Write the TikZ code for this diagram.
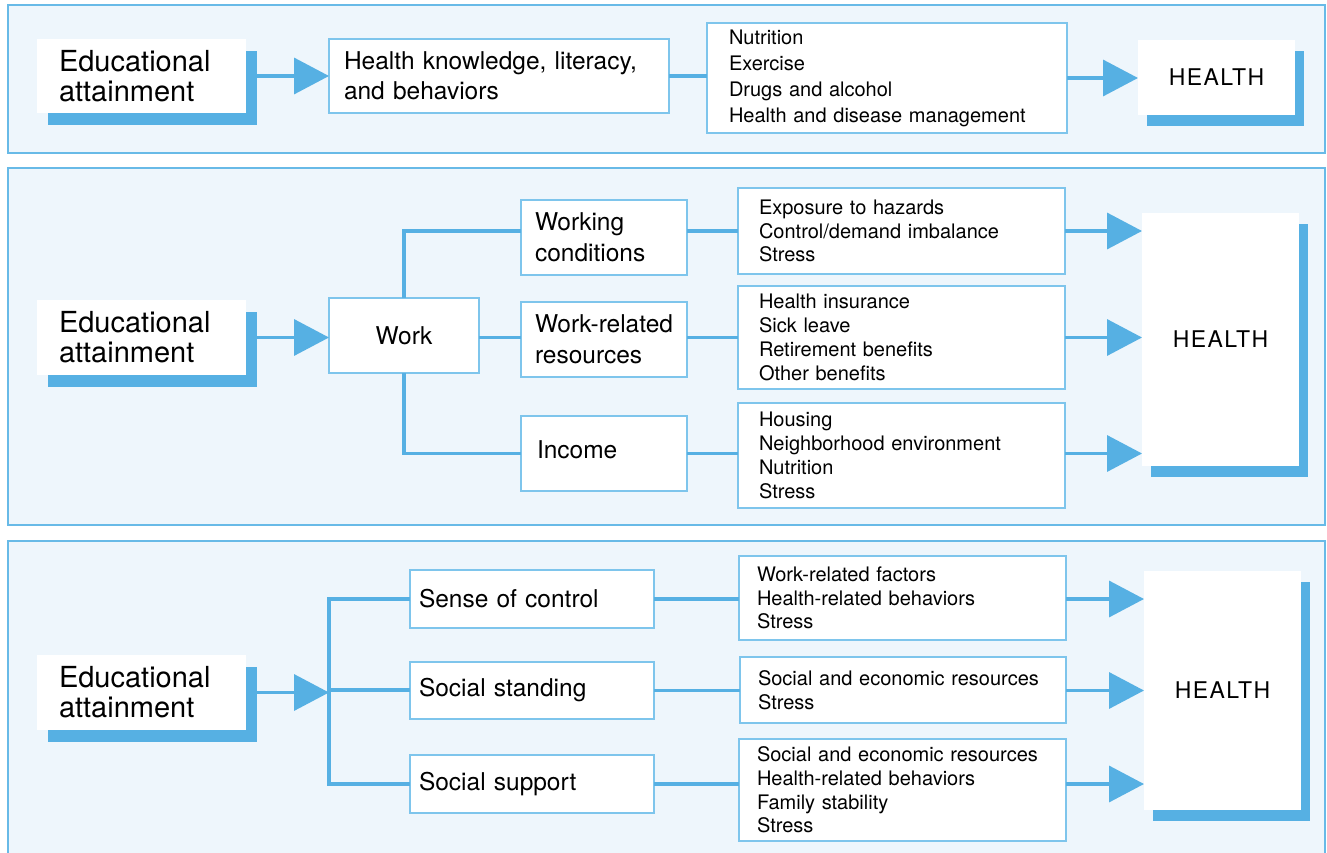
\documentclass[tikz,border=0pt]{standalone}
\usepackage{fontspec}
\setmainfont{TeX Gyre Heros}
\newfontfamily\hfont[LetterSpace=6]{TeX Gyre Heros}
\usetikzlibrary{arrows.meta,shadows}
\definecolor{sblue}{HTML}{56B0E3}
\definecolor{pfill}{HTML}{EEF6FC}
\definecolor{pline}{HTML}{68BAE7}
\definecolor{bline}{HTML}{7EC5EC}
\hyphenpenalty=10000 \exhyphenpenalty=10000
\newcommand\fbig{\fontsize{29}{30}\selectfont}
\newcommand\fmed{\fontsize{24.5}{30.5}\selectfont}
\newcommand\fsmalla{\fontsize{20}{26}\selectfont}
\newcommand\fsmallb{\fontsize{20}{23.8}\selectfont}
\begin{document}
\begin{tikzpicture}[x=1pt,y=-1pt,
  panel/.style={draw=pline,fill=pfill,line width=2pt},
  bx/.style={draw=bline,line width=1.3pt,fill=white,anchor=north west,align=left,inner ysep=0pt,outer sep=0pt},
  edu/.style={fill=white,anchor=north west,align=left,inner ysep=0pt,outer sep=0pt,minimum width=209pt,inner xsep=22pt,text width=165pt,font=\fbig,general shadow={fill=sblue,shadow xshift=11pt,shadow yshift=-12pt}},
  hbox/.style={fill=white,anchor=north west,outer sep=0pt,inner sep=0pt,minimum width=157pt,font=\hfont\fontsize{23}{26}\selectfont,general shadow={fill=sblue,shadow xshift=9pt,shadow yshift=-11pt}},
  conn/.style={draw=sblue,line width=3.5pt},
  arr/.style={conn,-{Triangle[length=35pt,width=36pt]}},
]
\path[use as bounding box] (0,0) rectangle (1327,853);
\clip (0,0) rectangle (1327,853);

% panels
\path[panel] (8,5) rectangle (1325,153);
\path[panel] (8,168) rectangle (1325,525);
\path[panel] (8,541) rectangle (1325,880);

% ---------- panel 1 ----------
\node[edu,minimum height=74pt] (e1) at (37,39) {Educational\\attainment};
\node[bx,minimum width=340pt,minimum height=74pt,inner xsep=15pt,text width=310pt,font=\fmed] (hk) at (329,39) {Health knowledge, literacy,\\and behaviors};
\node[bx,minimum width=360pt,minimum height=110pt,inner xsep=22pt,text width=316pt,font=\fsmalla] (n1) at (707,23) {Nutrition\\Exercise\\Drugs and alcohol\\Health and disease management};
\node[hbox,minimum height=75pt] (h1) at (1138,40) {HEALTH};

\draw[arr] (e1.east) -- (e1.east -| hk.west);
\draw[conn] (hk.east) -- (hk.east -| n1.west);
\draw[arr] (n1.east) -- (n1.east -| h1.west);

% ---------- panel 2 ----------
\node[edu,minimum height=75pt] (e2) at (37,300) {Educational\\attainment};
\node[bx,minimum width=150pt,minimum height=75pt,align=center,font=\fmed] (work) at (329,298) {Work};
\node[bx,minimum width=166pt,minimum height=75pt,inner xsep=14pt,text width=138pt,font=\fmed] (wc) at (521,200) {Working\\conditions};
\node[bx,minimum width=166pt,minimum height=75pt,inner xsep=14pt,text width=138pt,font=\fmed] (wr) at (521,302) {Work-related\\resources};
\node[bx,minimum width=166pt,minimum height=75pt,inner xsep=16pt,text width=134pt,text depth=8pt,font=\fmed] (inc) at (521,416) {Income};
\node[bx,minimum width=327pt,minimum height=86pt,inner xsep=21pt,text width=285pt,font=\fsmallb] (x1) at (738,188) {Exposure to hazards\\Control/demand imbalance\\Stress};
\node[bx,minimum width=327pt,minimum height=103pt,inner xsep=21pt,text width=285pt,font=\fsmallb] (x2) at (738,286) {Health insurance\\Sick leave\\Retirement benefits\\Other benefits};
\node[bx,minimum width=327pt,minimum height=105pt,inner xsep=21pt,text width=285pt,font=\fsmallb] (x3) at (738,403) {Housing\\Neighborhood environment\\Nutrition\\Stress};
\node[hbox,minimum height=253pt] (h2) at (1142,213) {HEALTH};

\draw[arr] (e2.east) -- (e2.east -| work.west);
\draw[conn] (work.north) |- (x1.west -| wc.west);
\draw[conn] (work.east |- x2.west) -- (x2.west -| wc.west);
\draw[conn] (work.south) |- (inc.west);
\draw[conn] (x1.west -| wc.east) -- (x1.west);
\draw[conn] (x2.west -| wr.east) -- (x2.west);
\draw[conn] (inc.east) -- (inc.east -| x3.west);
\draw[arr] (x1.east) -- (x1.east -| h2.west);
\draw[arr] (x2.east) -- (x2.east -| h2.west);
\draw[arr] (inc.east -| x3.east) -- (inc.east -| h2.west);

% ---------- panel 3 ----------
\node[edu,minimum height=75pt] (e3) at (37,655) {Educational\\attainment};
\coordinate (t3) at (329,690);
\node[bx,minimum width=244pt,minimum height=58pt,inner xsep=9pt,text width=226pt,font=\fmed] (sc) at (410,570) {Sense of control};
\node[bx,minimum width=244pt,minimum height=57pt,inner xsep=9pt,text width=226pt,font=\fmed] (ss) at (410,662) {Social standing};
\node[bx,minimum width=244pt,minimum height=58pt,inner xsep=9pt,text width=226pt,font=\fmed] (sp) at (410,755) {Social support};
\node[bx,minimum width=327pt,minimum height=84pt,inner xsep=18pt,text width=291pt,font=\fsmallb] (y1) at (739,556) {Work-related factors\\Health-related behaviors\\Stress};
\node[bx,minimum width=326pt,minimum height=66pt,inner xsep=18pt,text width=290pt,font=\fsmallb] (y2) at (740,657) {Social and economic resources\\Stress};
\node[bx,minimum width=327pt,minimum height=102pt,inner xsep=18pt,text width=291pt,font=\fsmallb] (y3) at (739,739) {Social and economic resources\\Health-related behaviors\\Family stability\\Stress};
\node[hbox,minimum height=239pt] (h3) at (1144,571) {HEALTH};

\draw[arr] (e3.east) -- (e3.east -| t3);
\draw[conn] (sc.west) -| (t3) |- (sp.west);
\draw[conn] (t3) -- (t3 -| ss.west);
\draw[conn] (sc.east) -- (sc.east -| y1.west);
\draw[conn] (ss.east) -- (ss.east -| y2.west);
\draw[conn] (sp.east) -- (sp.east -| y3.west);
\draw[arr] (y1.east |- sc.east) -- (sc.east -| h3.west);
\draw[arr] (y2.east |- ss.east) -- (ss.east -| h3.west);
\draw[arr] (y3.east |- sp.east) -- (sp.east -| h3.west);
\end{tikzpicture}
\end{document}
